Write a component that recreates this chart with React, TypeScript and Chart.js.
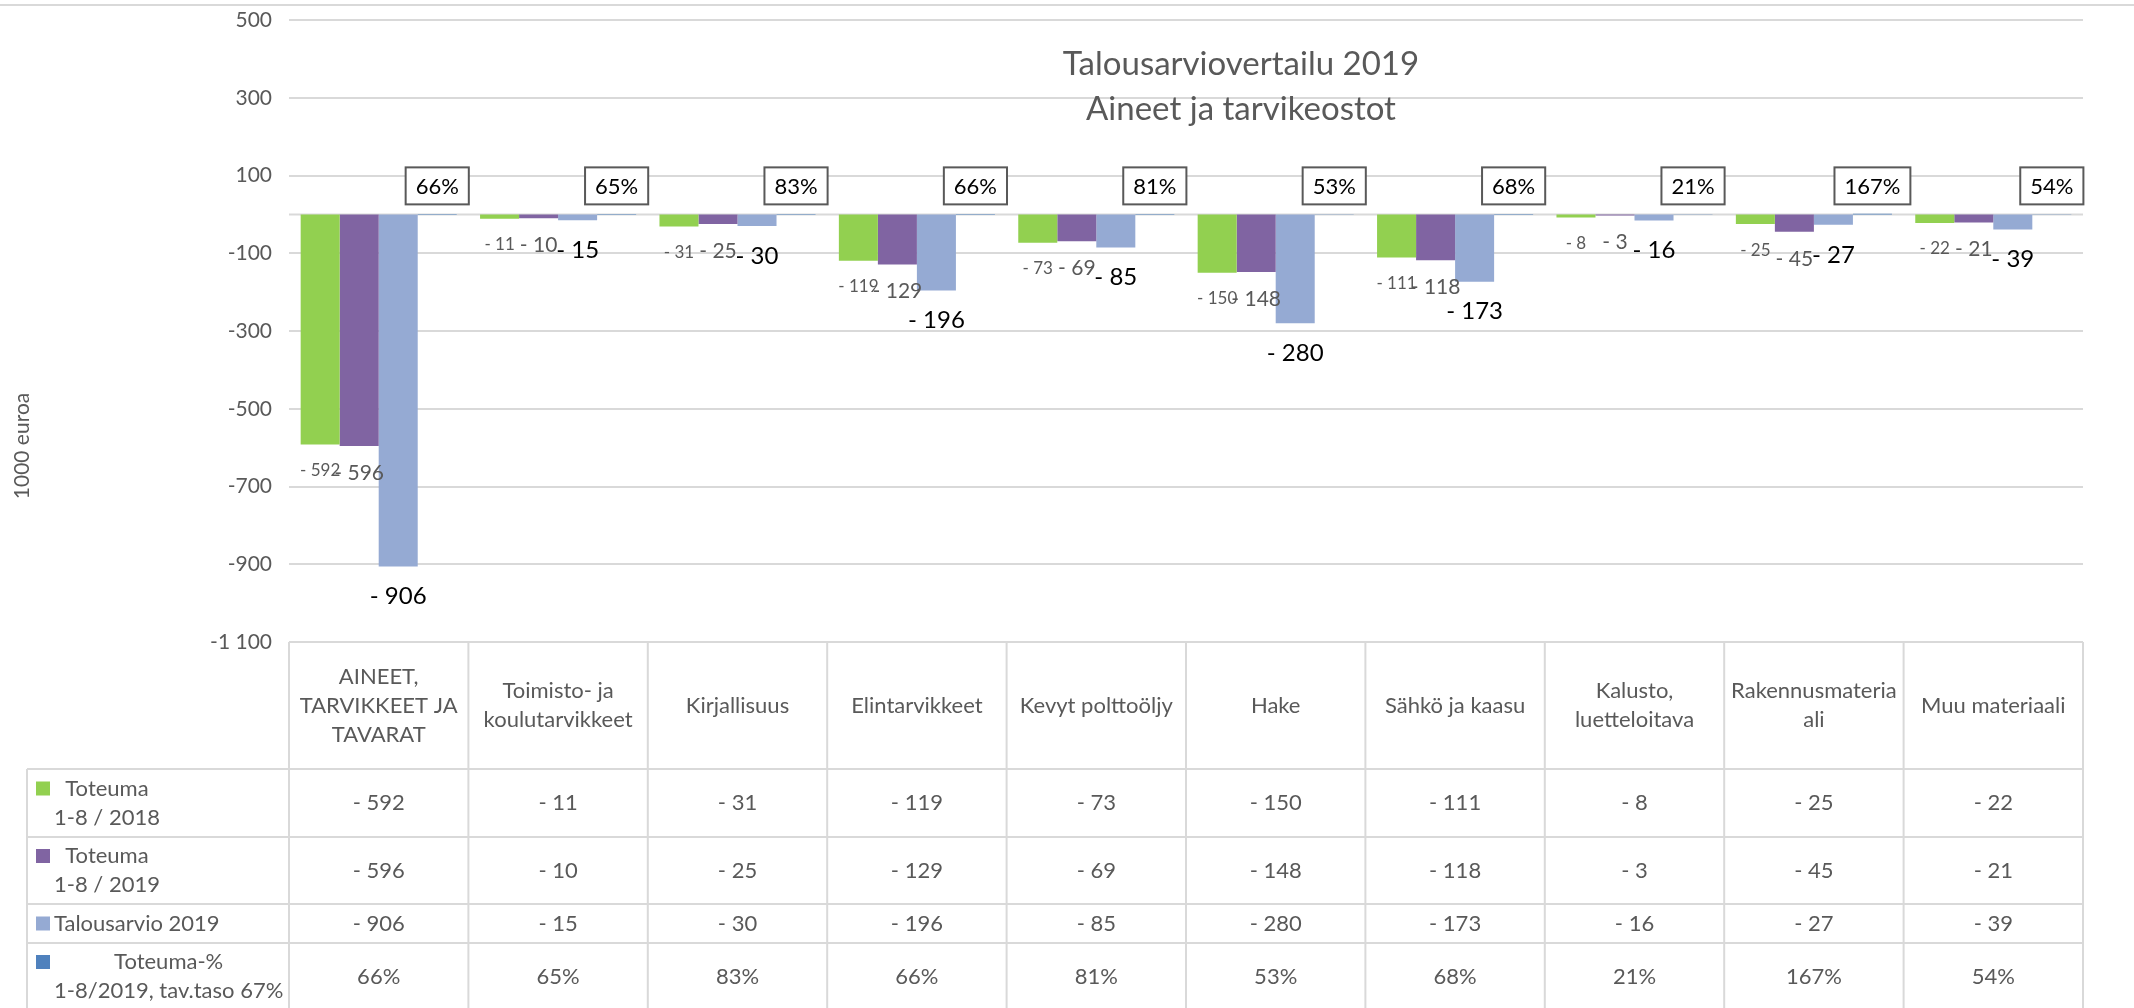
import React, { useEffect, useRef } from "react";
import { Chart, registerables } from "chart.js";

Chart.register(...registerables);

// ---- Data ----
const categories: string[][] = [
  ["AINEET,", "TARVIKKEET JA", "TAVARAT"],
  ["Toimisto- ja", "koulutarvikkeet"],
  ["Kirjallisuus"],
  ["Elintarvikkeet"],
  ["Kevyt polttoöljy"],
  ["Hake"],
  ["Sähkö ja kaasu"],
  ["Kalusto,", "luetteloitava"],
  ["Rakennusmateria", "ali"],
  ["Muu materiaali"],
];
const seriesNames: string[][] = [
  ["Toteuma", "1-8 / 2018"],
  ["Toteuma", "1-8 / 2019"],
  ["Talousarvio 2019"],
  ["Toteuma-%", "1-8/2019, tav.taso 67%"],
];
const toteuma2018 = [-592, -11, -31, -119, -73, -150, -111, -8, -25, -22];
const toteuma2019 = [-596, -10, -25, -129, -69, -148, -118, -3, -45, -21];
const talousarvio2019 = [-906, -15, -30, -196, -85, -280, -173, -16, -27, -39];
const toteumaPct = [0.66, 0.65, 0.83, 0.66, 0.81, 0.53, 0.68, 0.21, 1.67, 0.54];
const yTicks = [500, 300, 100, -100, -300, -500, -700, -900, -1100];
const titleLines = ["Talousarviovertailu 2019", "Aineet ja tarvikeostot"];
const yAxisTitle = "1000 euroa";

const COLORS = ["#92D050", "#8064A2", "#95AAD3", "#4F81BD"];
const FONT = "Lato, 'Noto Sans', sans-serif";
const GRID = "#D9D9D9";
const TEXT = "#595959";

const fmtVal = (v: number) => (v < 0 ? "- " + Math.abs(v) : String(v));
const fmtPct = (v: number) => Math.round(v * 100) + "%";
const fmtTick = (v: number) => {
  const a = Math.abs(v)
    .toString()
    .replace(/\B(?=(\d{3})+(?!\d))/g, " ");
  return (v < 0 ? "-" : "") + a;
};

const seriesValues = [toteuma2018, toteuma2019, talousarvio2019];

export default function App() {
  const ref = useRef<HTMLCanvasElement>(null);

  useEffect(() => {
    const canvas = ref.current!;

    const overlay = {
      id: "overlay",
      beforeDraw(chart: any) {
        const ctx = chart.ctx;
        ctx.save();
        ctx.fillStyle = "#fff";
        ctx.fillRect(0, 0, chart.width, chart.height);
        ctx.strokeStyle = GRID;
        ctx.lineWidth = 2;
        ctx.beginPath();
        ctx.moveTo(0, 5);
        ctx.lineTo(chart.width, 5);
        ctx.stroke();
        ctx.restore();
      },
      beforeDatasetsDraw(chart: any) {
        const ctx = chart.ctx;
        const { left, right } = chart.chartArea;
        const y0 = chart.scales.y.getPixelForValue(0);
        ctx.save();
        ctx.strokeStyle = GRID;
        ctx.lineWidth = 2;
        ctx.beginPath();
        ctx.moveTo(left, y0);
        ctx.lineTo(right, y0);
        ctx.stroke();
        // chart title (overlay)
        ctx.fillStyle = TEXT;
        ctx.font = `33px ${FONT}`;
        ctx.textAlign = "center";
        ctx.textBaseline = "alphabetic";
        ctx.fillText(titleLines[0], 1241, 75);
        ctx.fillText(titleLines[1], 1241, 120);
        ctx.restore();
      },
      afterDatasetsDraw(chart: any) {
        const ctx = chart.ctx;
        const y0 = chart.scales.y.getPixelForValue(0);
        ctx.save();
        const sizes = [17, 21, 24];
        const offs = [26, 27, 30];
        const cols = [TEXT, TEXT, "#000"];
        for (let d = 0; d < 3; d++) {
          const meta = chart.getDatasetMeta(d);
          ctx.font = `${sizes[d]}px ${FONT}`;
          ctx.fillStyle = cols[d];
          ctx.textAlign = "center";
          ctx.textBaseline = "middle";
          meta.data.forEach((el: any, i: number) => {
            const v = seriesValues[d][i];
            ctx.fillText(fmtVal(v), el.x, el.y + offs[d]);
          });
        }
        // percent boxes
        const meta3 = chart.getDatasetMeta(3);
        ctx.font = `22px ${FONT}`;
        meta3.data.forEach((el: any, i: number) => {
          const t = fmtPct(toteumaPct[i]);
          const tw = ctx.measureText(t).width;
          const w = tw + 20;
          const h = 37;
          const bx = el.x - w / 2;
          const by = y0 - 10 - h;
          ctx.fillStyle = "#fff";
          ctx.fillRect(bx, by, w, h);
          ctx.strokeStyle = "#595959";
          ctx.lineWidth = 2;
          ctx.strokeRect(bx, by, w, h);
          ctx.fillStyle = "#000";
          ctx.textAlign = "center";
          ctx.textBaseline = "middle";
          ctx.fillText(t, el.x, by + h / 2 + 1);
        });
        ctx.restore();
      },
      afterDraw(chart: any) {
        const ctx = chart.ctx;
        const { left, right, bottom } = chart.chartArea;
        const n = categories.length;
        const cw = (right - left) / n;
        ctx.save();
        // y axis title
        ctx.translate(22, 446);
        ctx.rotate(-Math.PI / 2);
        ctx.fillStyle = TEXT;
        ctx.font = `21px ${FONT}`;
        ctx.textAlign = "center";
        ctx.textBaseline = "middle";
        ctx.fillText(yAxisTitle, 0, 0);
        ctx.restore();

        // data table
        const tableLeft = 27;
        const headerTop = bottom;
        const headerH = 127;
        const rowHs = [68, 67, 39, 67];
        const rowTops: number[] = [];
        let yy = headerTop + headerH;
        for (const h of rowHs) {
          rowTops.push(yy);
          yy += h;
        }
        const tableBottom = yy;
        ctx.save();
        ctx.strokeStyle = GRID;
        ctx.lineWidth = 2;
        ctx.beginPath();
        for (let i = 0; i <= n; i++) {
          const x = left + i * cw;
          ctx.moveTo(x, headerTop);
          ctx.lineTo(x, tableBottom);
        }
        ctx.moveTo(tableLeft, rowTops[0]);
        ctx.lineTo(tableLeft, tableBottom);
        ctx.moveTo(left, headerTop);
        ctx.lineTo(right, headerTop);
        for (const t of rowTops) {
          ctx.moveTo(tableLeft, t);
          ctx.lineTo(right, t);
        }
        ctx.moveTo(tableLeft, tableBottom);
        ctx.lineTo(right, tableBottom);
        ctx.stroke();

        ctx.font = `22px ${FONT}`;
        ctx.fillStyle = TEXT;
        ctx.textAlign = "center";
        ctx.textBaseline = "middle";
        const LH = 29;
        // header cells
        categories.forEach((lines, i) => {
          const cx = left + (i + 0.5) * cw;
          const cy = headerTop + headerH / 2;
          lines.forEach((ln, k) => {
            ctx.fillText(ln, cx, cy + (k - (lines.length - 1) / 2) * LH);
          });
        });
        // value rows
        const rowVals: string[][] = [
          toteuma2018.map(fmtVal),
          toteuma2019.map(fmtVal),
          talousarvio2019.map(fmtVal),
          toteumaPct.map(fmtPct),
        ];
        rowVals.forEach((vals, r) => {
          const cy = rowTops[r] + rowHs[r] / 2;
          vals.forEach((t, i) => {
            ctx.fillText(t, left + (i + 0.5) * cw, cy);
          });
        });
        // row headers with legend keys
        seriesNames.forEach((lines, r) => {
          const cy = rowTops[r] + rowHs[r] / 2;
          const y1 = cy - ((lines.length - 1) / 2) * LH;
          ctx.fillStyle = COLORS[r];
          ctx.fillRect(36, y1 - 7, 14, 14);
          ctx.fillStyle = TEXT;
          const bw = Math.max(...lines.map((l) => ctx.measureText(l).width));
          const bcx = 54 + bw / 2;
          lines.forEach((ln, k) => {
            ctx.fillText(ln, bcx, y1 + k * LH);
          });
        });
        ctx.restore();
      },
    };

    const chart = new Chart(canvas, {
      type: "bar",
      data: {
        labels: categories.map((c) => c.join(" ")),
        datasets: [toteuma2018, toteuma2019, talousarvio2019, toteumaPct].map((d, k) => ({
          label: seriesNames[k].join(" "),
          data: d,
          backgroundColor: COLORS[k],
          borderWidth: 0,
          barPercentage: 1,
          categoryPercentage: 0.87,
        })),
      },
      options: {
        responsive: false,
        animation: false,
        devicePixelRatio: 1,
        layout: { padding: { left: 8, top: 20, right: 51, bottom: 366 } },
        plugins: {
          legend: { display: false },
          title: { display: false },
          tooltip: { enabled: false },
        },
        scales: {
          x: { display: false },
          y: {
            min: -1100,
            max: 500,
            afterBuildTicks: (scale: any) => {
              scale.ticks = yTicks.map((v) => ({ value: v }));
            },
            afterFit: (scale: any) => {
              scale.width = 281;
              scale.paddingTop = 0;
              scale.paddingBottom = 0;
            },
            grid: { color: GRID, lineWidth: 2, drawTicks: false },
            border: { display: false },
            ticks: {
              color: TEXT,
              font: { family: FONT, size: 21 },
              padding: 17,
              callback: (v: any) => fmtTick(Number(v)),
            },
          },
        },
      },
      plugins: [overlay],
    });

    return () => chart.destroy();
  }, []);

  return (
    <div style={{ position: "absolute", left: 0, top: 0, width: 2134, height: 1008 }}>
      <canvas ref={ref} width={2134} height={1008} style={{ display: "block" }} />
    </div>
  );
}
